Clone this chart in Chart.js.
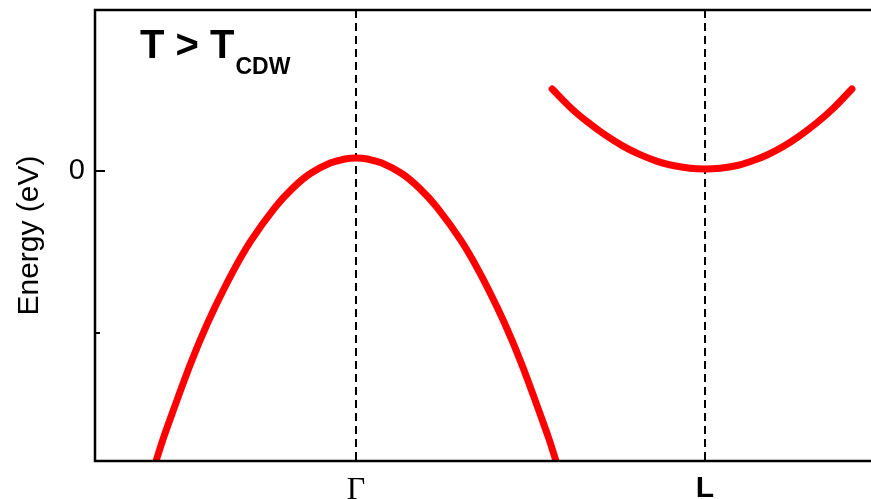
<!DOCTYPE html>
<html>
<head>
<meta charset="utf-8">
<script src="https://cdn.jsdelivr.net/npm/chart.js@4.4.1/dist/chart.umd.min.js"></script>
<style>
    html, body { margin: 0; padding: 0; background: #fff; }
    #wrap { width: 871px; height: 499px; }
</style>
</head>
<body>
<div id="wrap"><canvas id="bandas"></canvas></div>
<script>
// k en unidades de la distancia Γ-L (Γ = 0, L = 1), energia en unidades del tick
const kValencia = [-0.573, -0.553, -0.519, -0.484, -0.447, -0.404, -0.355, -0.301, -0.232, -0.182, -0.132, -0.074, -0.032, 0,
    0.032, 0.074, 0.132, 0.182, 0.232, 0.301, 0.355, 0.404, 0.447, 0.484, 0.519, 0.553, 0.573];
const eValencia = [-1.790, -1.655, -1.450, -1.245, -1.045, -0.840, -0.630, -0.430, -0.224, -0.107, -0.017, 0.049, 0.074, 0.080,
    0.074, 0.049, -0.017, -0.107, -0.224, -0.430, -0.630, -0.840, -1.045, -1.245, -1.450, -1.655, -1.790];

const kConduccion = [0.562, 0.622, 0.671, 0.719, 0.765, 0.814, 0.863, 0.908, 0.957, 1.000,
    1.043, 1.092, 1.138, 1.178, 1.224, 1.272, 1.321, 1.367, 1.421];
const eConduccion = [0.506, 0.377, 0.290, 0.215, 0.154, 0.101, 0.060, 0.034, 0.017, 0.012,
    0.017, 0.034, 0.065, 0.099, 0.151, 0.219, 0.299, 0.386, 0.506];

const puntosK = [0, 1];
const etiquetasK = ['Γ', 'L'];
const ticksEnergia = [-1, 0];

const SANS = '"Liberation Sans", Arial, sans-serif';

function aPuntos(xs, ys) {
    return xs.map((x, i) => ({ x: x, y: ys[i] }));
}

// lineas discontinuas en los puntos de simetria
const simetriaPlugin = {
    id: 'simetria',
    beforeDatasetsDraw(chart) {
        const { ctx, chartArea: a, scales } = chart;
        ctx.save();
        ctx.strokeStyle = '#000';
        ctx.lineWidth = 2;
        ctx.setLineDash([8, 5]);
        puntosK.forEach(v => {
            const x = Math.round(scales.x.getPixelForValue(v));
            ctx.beginPath();
            ctx.moveTo(x, a.top);
            ctx.lineTo(x, a.bottom);
            ctx.stroke();
        });
        ctx.restore();
    }
};

// marco (arriba, izquierda, abajo), ticks hacia dentro y titulo
const marcoPlugin = {
    id: 'marco',
    afterDraw(chart) {
        const { ctx, chartArea: a, scales } = chart;
        ctx.save();
        ctx.strokeStyle = '#000';
        ctx.lineWidth = 2.5;
        ctx.beginPath();
        ctx.moveTo(a.right, a.top);
        ctx.lineTo(a.left, a.top);
        ctx.lineTo(a.left, a.bottom);
        ctx.lineTo(a.right, a.bottom);
        ctx.stroke();

        ctx.lineWidth = 2;
        ticksEnergia.forEach(v => {
            const y = scales.y.getPixelForValue(v);
            const largo = v === 0 ? 10 : 5;
            ctx.beginPath();
            ctx.moveTo(a.left, y);
            ctx.lineTo(a.left + largo, y);
            ctx.stroke();
        });

        ctx.fillStyle = '#000';
        ctx.textBaseline = 'alphabetic';
        ctx.font = 'bold 40px ' + SANS;
        const texto = 'T > T';
        ctx.fillText(texto, 140, 58);
        const ancho = ctx.measureText(texto).width;
        ctx.font = 'bold 23px ' + SANS;
        ctx.fillText('CDW', 140 + ancho + 1, 74);
        ctx.restore();
    }
};

const ctx = document.getElementById('bandas').getContext('2d');

const estiloBanda = {
    borderColor: '#ff0000',
    borderWidth: 7,
    borderCapStyle: 'round',
    borderJoinStyle: 'round',
    tension: 0.4,
    pointRadius: 0,
    fill: false
};

new Chart(ctx, {
    type: 'line',
    data: {
        datasets: [
            Object.assign({ label: 'Valencia', data: aPuntos(kValencia, eValencia) }, estiloBanda),
            Object.assign({ label: 'Conduccion', data: aPuntos(kConduccion, eConduccion) }, estiloBanda)
        ]
    },
    options: {
        responsive: true,
        maintainAspectRatio: false,
        animation: false,
        layout: {
            padding: { top: 10, right: 0, bottom: 0, left: 0 }
        },
        plugins: {
            legend: { display: false },
            tooltip: { enabled: false }
        },
        scales: {
            x: {
                type: 'linear',
                min: -0.748,
                max: 1.4756,
                afterBuildTicks: scale => {
                    scale.ticks = puntosK.map(v => ({ value: v }));
                },
                afterFit: scale => {
                    scale.height = 38;
                    scale.paddingLeft = 0;
                    scale.paddingRight = 0;
                },
                border: { display: false },
                grid: { display: false, drawTicks: false },
                ticks: {
                    padding: 10,
                    color: '#000',
                    maxRotation: 0,
                    autoSkip: false,
                    callback: v => {
                        const i = puntosK.indexOf(v);
                        return i >= 0 ? etiquetasK[i] : '';
                    },
                    font: c => (c.tick && c.tick.value === 0)
                        ? { family: '"Liberation Serif", "Times New Roman", serif', size: 32 }
                        : { family: SANS, size: 30, weight: 'bold' }
                }
            },
            y: {
                type: 'linear',
                min: -1.79,
                max: 0.994,
                afterBuildTicks: scale => {
                    scale.ticks = ticksEnergia.map(v => ({ value: v }));
                },
                afterFit: scale => {
                    scale.width = 95;
                    scale.paddingTop = 0;
                    scale.paddingBottom = 0;
                },
                border: { display: false },
                grid: { display: false, drawTicks: false },
                ticks: {
                    padding: 10,
                    color: '#000',
                    font: { family: SANS, size: 29 },
                    callback: v => (v === 0 ? '0' : '')
                },
                title: {
                    display: true,
                    text: 'Energy (eV)',
                    color: '#000',
                    font: { family: SANS, size: 30 },
                    padding: { top: 12, bottom: 0 }
                }
            }
        }
    },
    plugins: [simetriaPlugin, marcoPlugin]
});
</script>
</body>
</html>
